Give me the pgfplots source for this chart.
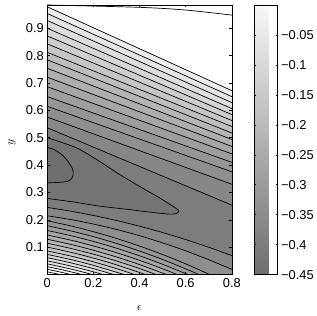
\documentclass[border=0pt]{standalone}
\usepackage{pgfplots}
\pgfplotsset{compat=1.18}
\usepackage{fontspec}
\setmainfont{Liberation Sans}
\begin{document}
\begin{tikzpicture}
\path (0bp,0bp) rectangle (317bp,317bp);
\begin{axis}[at={(47.5bp,41bp)}, anchor=south west, scale only axis,
  width=185.5bp, height=271bp,
  xmin=0, xmax=0.8, ymin=0, ymax=0.985,
  axis on top, tick align=inside, major tick length=2.5bp,
  axis line style={line width=0.5bp},
  every tick/.style={black, line width=0.5bp},
  axis background/.style={fill=black!51},
  xtick={0,0.2,0.4,0.6,0.8}, xticklabels={0,0.2,0.4,0.6,0.8},
  ytick={0.1,0.2,0.3,0.4,0.5,0.6,0.7,0.8,0.9},
  yticklabels={0.1,0.2,0.3,0.4,0.5,0.6,0.7,0.8,0.9},
  tick label style={font=\fontsize{13}{13}\selectfont},
  xlabel={$\epsilon$}, ylabel={$y$},
  label style={font=\fontsize{12}{12}\selectfont},
  xlabel style={at={(axis description cs:0.5,-0.125)}, anchor=center},
  ylabel style={at={(axis description cs:-0.191,0.49)}, anchor=center},
  colorbar,
  colormap={gr}{gray(0cm)=(0.43); gray(1cm)=(0.97)},
  point meta min=-0.45, point meta max=0,
  colorbar style={at={(parent axis.north east)}, anchor=north west, xshift=14bp,
    scale only axis, width=23.5bp, height=271bp,
    ytick={-0.45,-0.4,-0.35,-0.3,-0.25,-0.2,-0.15,-0.1,-0.05},
    yticklabels={−0.45,−0.4,−0.35,−0.3,−0.25,−0.2,−0.15,−0.1,−0.05},
    yticklabel pos=right, ytick pos=both, tick align=inside, major tick length=2bp,
    axis line style={line width=0.5bp},
    every tick/.style={black, line width=0.5bp},
    yticklabel style={font=\fontsize{13}{13}\selectfont}},
  cl/.style={black, line width=0.7bp},
]
% closed contours
\addplot[fill=black!54, draw=none] coordinates {(0,0.5) (0.0755,0.4793) (0.1401,0.4575) (0.2264,0.4138) (0.3126,0.3665) (0.3989,0.3229) (0.4851,0.2811) (0.5369,0.2538) (0.5627,0.2393) (0.5692,0.2302) (0.5584,0.2229) (0.5282,0.2211) (0.4420,0.2284) (0.3558,0.2375) (0.2264,0.2502) (0.1186,0.2647) (0,0.2782)};
\addplot[fill=black!57, draw=none] coordinates {(0,0.4647) (0.0323,0.4556) (0.0668,0.4356) (0.0927,0.4102) (0.1100,0.3847) (0.1121,0.3665) (0.1056,0.3502) (0.0841,0.3400) (0.0410,0.3364) (0,0.3356)};
% upper bands
\addplot[fill=black!47.2, draw=none] coordinates {(0,0.5364) (0.8,0.2538) (0.8,1) (0,1)};
\addplot[fill=black!44.1, draw=none] coordinates {(0,0.5756) (0.8,0.3302) (0.8,1) (0,1)};
\addplot[fill=black!41.0, draw=none] coordinates {(0,0.6149) (0.8,0.3756) (0.8,1) (0,1)};
\addplot[fill=black!37.9, draw=none] coordinates {(0,0.6502) (0.8,0.4102) (0.8,1) (0,1)};
\addplot[fill=black!34.8, draw=none] coordinates {(0,0.6865) (0.8,0.4411) (0.8,1) (0,1)};
\addplot[fill=black!31.7, draw=none] coordinates {(0,0.7211) (0.8,0.4684) (0.8,1) (0,1)};
\addplot[fill=black!28.6, draw=none] coordinates {(0,0.7538) (0.8,0.4938) (0.8,1) (0,1)};
\addplot[fill=black!25.5, draw=none] coordinates {(0,0.7847) (0.8,0.5175) (0.8,1) (0,1)};
\addplot[fill=black!22.4, draw=none] coordinates {(0,0.8120) (0.8,0.5411) (0.8,1) (0,1)};
\addplot[fill=black!19.3, draw=none] coordinates {(0,0.8429) (0.8,0.5629) (0.8,1) (0,1)};
\addplot[fill=black!16.2, draw=none] coordinates {(0,0.8720) (0.8,0.5847) (0.8,1) (0,1)};
\addplot[fill=black!13.1, draw=none] coordinates {(0,0.9000) (0.8,0.6065) (0.8,1) (0,1)};
\addplot[fill=black!10.0, draw=none] coordinates {(0,0.9284) (0.8,0.6284) (0.8,1) (0,1)};
\addplot[fill=black!6.9, draw=none] coordinates {(0,0.9538) (0.8,0.6502) (0.8,1) (0,1)};
\addplot[fill=white, draw=none] coordinates {(0,0.9785) (0.8,0.6720) (0.8,1) (0,1)};
% lower bands
\addplot[fill=black!47.2, draw=none] coordinates {(0,0.2455) (0.1,0.2320) (0.2,0.2160) (0.3,0.1976) (0.4,0.1768) (0.5,0.1536) (0.6,0.1279) (0.7,0.0999) (0.8,0.0694) (0.8,0) (0,0)};
\addplot[fill=black!44.1, draw=none] coordinates {(0,0.2149) (0.1,0.2014) (0.2,0.1847) (0.3,0.1649) (0.4,0.1420) (0.5,0.1159) (0.6,0.0868) (0.7,0.0544) (0.8,0.0190) (0.8,0) (0,0)};
\addplot[fill=black!41.0, draw=none] coordinates {(0,0.1967) (0.1,0.1783) (0.2,0.1567) (0.3,0.1320) (0.4,0.1042) (0.5,0.0733) (0.6,0.0392) (0.705,0) (0,0)};
\addplot[fill=black!37.9, draw=none] coordinates {(0,0.1785) (0.1,0.1601) (0.2,0.1386) (0.3,0.1139) (0.4,0.0861) (0.5,0.0551) (0.6,0.0210) (0.657,0) (0,0)};
\addplot[fill=black!34.8, draw=none] coordinates {(0,0.1611) (0.1,0.1427) (0.2,0.1211) (0.3,0.0964) (0.4,0.0686) (0.5,0.0377) (0.61,0) (0,0)};
\addplot[fill=black!31.7, draw=none] coordinates {(0,0.1447) (0.1,0.1263) (0.2,0.1047) (0.3,0.0800) (0.4,0.0522) (0.5,0.0213) (0.564,0) (0,0)};
\addplot[fill=black!28.6, draw=none] coordinates {(0,0.1291) (0.1,0.1107) (0.2,0.0891) (0.3,0.0644) (0.4,0.0366) (0.517,0) (0,0)};
\addplot[fill=black!25.5, draw=none] coordinates {(0,0.1145) (0.1,0.0961) (0.2,0.0746) (0.3,0.0499) (0.4,0.0221) (0.472,0) (0,0)};
\addplot[fill=black!22.4, draw=none] coordinates {(0,0.1004) (0.1,0.0819) (0.2,0.0604) (0.3,0.0357) (0.4265,0) (0,0)};
\addplot[fill=black!19.3, draw=none] coordinates {(0,0.0865) (0.1,0.0681) (0.2,0.0466) (0.3,0.0219) (0.3795,0) (0,0)};
\addplot[fill=black!16.2, draw=none] coordinates {(0,0.0738) (0.1,0.0554) (0.2,0.0338) (0.334,0) (0,0)};
\addplot[fill=black!13.1, draw=none] coordinates {(0,0.0618) (0.1,0.0434) (0.2,0.0218) (0.289,0) (0,0)};
\addplot[fill=black!10.0, draw=none] coordinates {(0,0.0502) (0.1,0.0318) (0.2,0.0102) (0.243,0) (0,0)};
\addplot[fill=black!6.9, draw=none] coordinates {(0,0.0393) (0.1,0.0208) (0.197,0) (0,0)};
\addplot[fill=black!3.8, draw=none] coordinates {(0,0.0291) (0.075,0.0156) (0.151,0) (0,0)};
\addplot[fill=white, draw=none] coordinates {(0,0.0193) (0.05,0.0104) (0.104,0) (0,0)};
% contour lines
\addplot[cl, smooth] coordinates {(0,0.5) (0.0755,0.4793) (0.1401,0.4575) (0.2264,0.4138) (0.3126,0.3665) (0.3989,0.3229) (0.4851,0.2811) (0.5369,0.2538) (0.5627,0.2393) (0.5692,0.2302) (0.5584,0.2229) (0.5282,0.2211) (0.4420,0.2284) (0.3558,0.2375) (0.2264,0.2502) (0.1186,0.2647) (0,0.2782)};
\addplot[cl, smooth] coordinates {(0,0.4647) (0.0323,0.4556) (0.0668,0.4356) (0.0927,0.4102) (0.1100,0.3847) (0.1121,0.3665) (0.1056,0.3502) (0.0841,0.3400) (0.0410,0.3364) (0,0.3356)};
\addplot[cl] coordinates {(0,0.5364) (0.8,0.2538)};
\addplot[cl] coordinates {(0,0.5756) (0.8,0.3302)};
\addplot[cl] coordinates {(0,0.6149) (0.8,0.3756)};
\addplot[cl] coordinates {(0,0.6502) (0.8,0.4102)};
\addplot[cl] coordinates {(0,0.6865) (0.8,0.4411)};
\addplot[cl] coordinates {(0,0.7211) (0.8,0.4684)};
\addplot[cl] coordinates {(0,0.7538) (0.8,0.4938)};
\addplot[cl] coordinates {(0,0.7847) (0.8,0.5175)};
\addplot[cl] coordinates {(0,0.8120) (0.8,0.5411)};
\addplot[cl] coordinates {(0,0.8429) (0.8,0.5629)};
\addplot[cl] coordinates {(0,0.8720) (0.8,0.5847)};
\addplot[cl] coordinates {(0,0.9000) (0.8,0.6065)};
\addplot[cl] coordinates {(0,0.9284) (0.8,0.6284)};
\addplot[cl] coordinates {(0,0.9538) (0.8,0.6502)};
\addplot[cl] coordinates {(0,0.9785) (0.8,0.6720)};
\addplot[cl, smooth] coordinates {(0,0.985) (0.399,0.9764) (0.6,0.9665) (0.8,0.948)};
\addplot[cl, smooth] coordinates {(0,0.2455) (0.1,0.2320) (0.2,0.2160) (0.3,0.1976) (0.4,0.1768) (0.5,0.1536) (0.6,0.1279) (0.7,0.0999) (0.8,0.0694)};
\addplot[cl, smooth] coordinates {(0,0.2149) (0.1,0.2014) (0.2,0.1847) (0.3,0.1649) (0.4,0.1420) (0.5,0.1159) (0.6,0.0868) (0.7,0.0544) (0.8,0.0190)};
\addplot[cl, smooth] coordinates {(0,0.1967) (0.1,0.1783) (0.2,0.1567) (0.3,0.1320) (0.4,0.1042) (0.5,0.0733) (0.6,0.0392) (0.705,0)};
\addplot[cl, smooth] coordinates {(0,0.1785) (0.1,0.1601) (0.2,0.1386) (0.3,0.1139) (0.4,0.0861) (0.5,0.0551) (0.6,0.0210) (0.657,0)};
\addplot[cl, smooth] coordinates {(0,0.1611) (0.1,0.1427) (0.2,0.1211) (0.3,0.0964) (0.4,0.0686) (0.5,0.0377) (0.61,0)};
\addplot[cl, smooth] coordinates {(0,0.1447) (0.1,0.1263) (0.2,0.1047) (0.3,0.0800) (0.4,0.0522) (0.5,0.0213) (0.564,0)};
\addplot[cl, smooth] coordinates {(0,0.1291) (0.1,0.1107) (0.2,0.0891) (0.3,0.0644) (0.4,0.0366) (0.517,0)};
\addplot[cl, smooth] coordinates {(0,0.1145) (0.1,0.0961) (0.2,0.0746) (0.3,0.0499) (0.4,0.0221) (0.472,0)};
\addplot[cl, smooth] coordinates {(0,0.1004) (0.1,0.0819) (0.2,0.0604) (0.3,0.0357) (0.4265,0)};
\addplot[cl, smooth] coordinates {(0,0.0865) (0.1,0.0681) (0.2,0.0466) (0.3,0.0219) (0.3795,0)};
\addplot[cl, smooth] coordinates {(0,0.0738) (0.1,0.0554) (0.2,0.0338) (0.334,0)};
\addplot[cl, smooth] coordinates {(0,0.0618) (0.1,0.0434) (0.2,0.0218) (0.289,0)};
\addplot[cl, smooth] coordinates {(0,0.0502) (0.1,0.0318) (0.2,0.0102) (0.243,0)};
\addplot[cl, smooth] coordinates {(0,0.0393) (0.1,0.0208) (0.197,0)};
\addplot[cl, smooth] coordinates {(0,0.0291) (0.075,0.0156) (0.151,0)};
\addplot[cl, smooth] coordinates {(0,0.0193) (0.05,0.0104) (0.104,0)};
\addplot[cl] coordinates {(0,0.0102) (0.057,0)};
\end{axis}
\end{tikzpicture}
\end{document}
